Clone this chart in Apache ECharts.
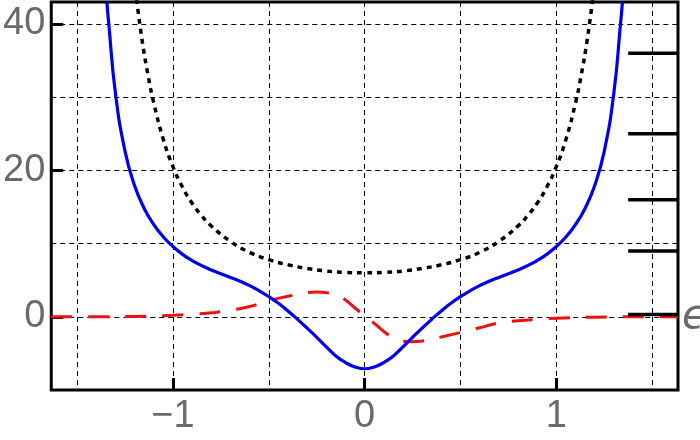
<!DOCTYPE html>
<html><head><meta charset="utf-8">
<script src="https://cdn.jsdelivr.net/npm/echarts@6/dist/echarts.min.js"></script>
<style>html,body{margin:0;padding:0;background:#fff}#c{width:700px;height:440px}</style>
</head><body><div id="c"></div><script>
const xMin = -1.635, xMax = 1.635, yMin = -10, yMax = 43;
const xGridValues = [-1.5, -1, -0.5, 0, 0.5, 1, 1.5];
const xTickValues = [-1, 0, 1];
const yTickValues = [0, 20, 40];

const blueX = [-1.345,-1.335,-1.3,-1.25,-1.2,-1.15,-1.1,-1.05,-1.0,-0.95,-0.9,-0.85,-0.8,-0.75,-0.7,-0.65,-0.6,-0.55,-0.5,-0.45,-0.4,-0.35,-0.3,-0.25,-0.2,-0.15,-0.1,-0.05,0,
  0.05,0.1,0.15,0.2,0.25,0.3,0.35,0.4,0.45,0.5,0.55,0.6,0.65,0.7,0.75,0.8,0.85,0.9,0.95,1.0,1.05,1.1,1.15,1.2,1.25,1.3,1.335,1.345];
const blueY = [43,40,30.5,22.6,17.9,14.8,12.6,10.9,9.6,8.53,7.68,6.99,6.4,5.88,5.38,4.85,4.25,3.55,2.75,1.85,0.8,-0.35,-1.55,-2.8,-4.1,-5.35,-6.25,-6.85,-7.1,
  -6.85,-6.25,-5.35,-4.1,-2.8,-1.55,-0.35,0.8,1.85,2.75,3.55,4.25,4.85,5.38,5.88,6.4,6.99,7.68,8.53,9.6,10.9,12.6,14.8,17.9,22.6,30.5,40,43];

const dotX = [-1.19,-1.16,-1.13,-1.1,-1.05,-1.0,-0.95,-0.9,-0.85,-0.8,-0.7,-0.6,-0.5,-0.4,-0.3,-0.2,-0.1,0,
  0.1,0.2,0.3,0.4,0.5,0.6,0.7,0.8,0.85,0.9,0.95,1.0,1.05,1.1,1.13,1.16,1.19];
const dotY = [43.4,37.6,33.0,29.2,24.2,20.5,17.7,15.5,13.8,12.4,10.3,8.8,7.8,7.1,6.6,6.25,6.06,6.0,
  6.06,6.25,6.6,7.1,7.8,8.8,10.3,12.4,13.8,15.5,17.7,20.5,24.2,29.2,33.0,37.6,43.4];

const redX = [-1.635,-1.4,-1.2,-1.0,-0.88,-0.78,-0.68,-0.6,-0.5,-0.4,-0.3,-0.25,-0.2,-0.15,-0.1,-0.05,0,
  0.05,0.1,0.15,0.2,0.25,0.3,0.4,0.5,0.6,0.7,0.8,0.9,1.0,1.2,1.4,1.635];
const redY = [0,0,0.05,0.2,0.4,0.6,1.0,1.4,2.2,2.8,3.3,3.4,3.3,3.0,2.3,1.2,0.1,
  -0.9,-2.0,-2.9,-3.35,-3.4,-3.3,-2.75,-2.15,-1.5,-0.85,-0.55,-0.35,-0.2,-0.05,0,0];

const levelE = [0.3, 9, 16, 25, 36];
const levelX0 = 1.375;

const zip = (xs, ys) => xs.map((x, i) => [x, ys[i]]);
const fmt = v => String(v).replace('-', '\u2212');
const labelFont = {color: '#6a6a6a', fontSize: 38, fontFamily: 'Liberation Sans, Arial, sans-serif'};

const series = [
  {type: 'line', data: zip(redX, redY), smooth: 0.5, showSymbol: false, symbol: 'none', z: 3,
   lineStyle: {color: '#ee1111', width: 3, type: [21, 16], cap: 'butt'}},
  {type: 'line', data: zip(dotX, dotY), smooth: 0.5, showSymbol: false, symbol: 'none', z: 4,
   lineStyle: {color: '#000', width: 3.5, type: [5, 5], cap: 'butt'}},
  {type: 'line', data: zip(blueX, blueY), smooth: 0.5, showSymbol: false, symbol: 'none', z: 5,
   lineStyle: {color: '#0000f0', width: 3.2}}
];
levelE.forEach(e => series.push({type: 'line', data: [[levelX0, e], [xMax, e]], showSymbol: false, symbol: 'none', z: 6,
  lineStyle: {color: '#000', width: 3.5}}));

const chart = echarts.init(document.getElementById('c'), null, {renderer: 'canvas'});
chart.setOption({
  animation: false,
  grid: {left: 51, right: 22, top: 2, bottom: 50, show: true, borderColor: '#000', borderWidth: 3, backgroundColor: 'transparent'},
  xAxis: [
    {type: 'value', min: xMin, max: xMax, axisLine: {show: false, onZero: false}, axisLabel: {show: false},
     axisTick: {show: false, customValues: xGridValues},
     splitLine: {show: true, lineStyle: {color: '#000', width: 1, type: [5, 4]}}},
    {type: 'value', min: xMin, max: xMax, position: 'bottom', axisLine: {show: false, onZero: false},
     axisTick: {show: true, inside: true, length: 12, customValues: xTickValues, lineStyle: {color: '#000', width: 3}},
     axisLabel: Object.assign({customValues: xTickValues, margin: 8, formatter: fmt}, labelFont),
     splitLine: {show: false}}
  ],
  yAxis: [
    {type: 'value', min: yMin, max: yMax, interval: 10, axisLine: {show: false, onZero: false}, axisLabel: {show: false},
     axisTick: {show: false},
     splitLine: {show: true, lineStyle: {color: '#000', width: 1, type: [5, 4]}}},
    {type: 'value', min: yMin, max: yMax, position: 'left', axisLine: {show: false, onZero: false},
     axisTick: {show: true, inside: true, length: 12, customValues: yTickValues, lineStyle: {color: '#000', width: 3}},
     axisLabel: Object.assign({customValues: yTickValues, margin: 6, formatter: fmt}, labelFont),
     splitLine: {show: false}}
  ],
  series: series,
  graphic: [{type: 'text', left: 682, top: 298, style: {text: '\u03f5', fill: '#6a6a6a', font: 'italic 40px "DejaVu Sans"'}}]
});
</script></body></html>
